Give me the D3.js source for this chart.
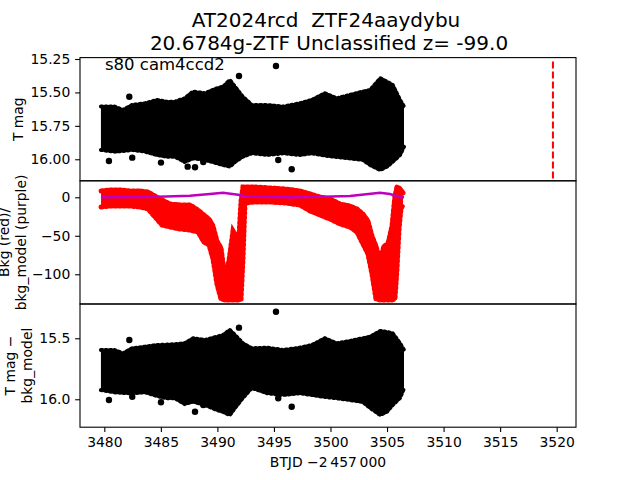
<!DOCTYPE html>
<html><head><meta charset="utf-8">
<script src="https://cdn.jsdelivr.net/npm/d3@7"></script>
<style>body{margin:0;background:#fff} svg{display:block}</style>
</head><body>
<svg id="c" width="640" height="480"></svg>
<script>
// ---------- data ----------
const titleLines = ["AT2024rcd  ZTF24aaydybu", "20.6784g-ZTF Unclassified z= -99.0"];
const sectorLabel = "s80 cam4ccd2";
const xLabel = "BTJD \u22122\u2009457\u2009000";

// light curve envelope (T mag) - upper (bright) and lower (faint) edge of the dense band
const bandTime = [3479.7, 3480.9, 3481.65, 3482.45, 3483.6, 3484.65, 3485.5, 3486.25, 3487.1, 3487.85, 3488.9, 3489.95, 3490.5, 3491.1, 3491.55, 3492.25, 3493.05, 3494.4, 3495.8, 3497.3, 3498.35, 3499.5, 3500.55, 3501.7, 3502.85, 3503.5, 3504.4, 3505.0, 3505.5, 3506.15, 3506.5];
const magBright = [15.606, 15.606, 15.631, 15.594, 15.581, 15.556, 15.570, 15.569, 15.544, 15.494, 15.506, 15.469, 15.457, 15.407, 15.457, 15.532, 15.594, 15.594, 15.606, 15.581, 15.556, 15.506, 15.544, 15.519, 15.494, 15.482, 15.394, 15.420, 15.444, 15.556, 15.606];
const magFaint = [15.930, 15.943, 15.938, 15.930, 15.943, 15.968, 15.981, 15.981, 16.020, 15.993, 16.005, 16.030, 16.043, 16.055, 16.020, 15.981, 15.955, 15.968, 15.955, 15.968, 15.955, 15.972, 15.983, 15.993, 16.005, 16.043, 16.080, 16.055, 16.018, 15.968, 15.906];
const outTime = [3482.21, 3491.91, 3495.18, 3480.41, 3482.47, 3485.01, 3487.37, 3488.02, 3488.75, 3495.38, 3496.57];
const outMag  = [15.532, 15.377, 15.302, 16.013, 15.988, 16.025, 16.055, 16.060, 16.020, 16.005, 16.075];

// background (red) envelope and background model (purple)
const bkgTime = [3479.71, 3480.50, 3481.39, 3482.27, 3483.16, 3483.86, 3484.48, 3485.10, 3485.81, 3486.69, 3487.58, 3488.28, 3488.81, 3489.26, 3489.61, 3489.96, 3490.32, 3490.67, 3491.02, 3491.38, 3491.64, 3491.91, 3492.09, 3492.26, 3492.44, 3493.32, 3494.65, 3495.98, 3497.30, 3498.19, 3499.07, 3499.96, 3500.84, 3501.72, 3502.34, 3502.87, 3503.31, 3503.67, 3504.02, 3504.38, 3504.73, 3505.08, 3505.44, 3505.70, 3505.88, 3506.06, 3506.23, 3506.41];
const bkgHigh = [8.2, 9.5, 9.5, 8.2, 8.2, 6.9, 1.7, -3.5, -8.7, -10.0, -10.0, -16.5, -23.0, -28.2, -37.3, -56.8, -65.9, -105.3, -82.7, -43.8, -50.3, -50.3, -4.8, 13.4, 13.4, 13.4, 12.1, 10.8, 8.2, 4.3, 0.4, -2.2, -8.7, -11.3, -15.2, -21.7, -30.8, -50.3, -63.3, -82.7, -63.3, -60.7, -37.3, 1.7, 13.4, 12.1, 9.5, 5.6];
const bkgLow = [-12.6, -11.3, -11.3, -11.3, -12.6, -15.2, -25.6, -36.0, -38.6, -41.2, -42.5, -45.1, -58.1, -61.9, -80.1, -112.6, -132.1, -133.4, -133.4, -133.4, -133.4, -133.4, -132.1, -80.1, -7.4, -6.1, -6.1, -7.4, -10.0, -17.8, -23.0, -28.2, -34.7, -38.6, -45.1, -60.7, -73.6, -99.6, -132.1, -133.4, -133.4, -133.4, -133.4, -132.1, -93.1, -41.2, -15.2, -10.0];
const modelTime = [3479.7, 3484.04, 3487.58, 3489.34, 3490.49, 3492.0, 3492.62, 3496.42, 3499.33, 3501.72, 3504.38, 3505.26, 3506.14, 3506.5];
const modelVal  = [0, 0.5, 2.1, 4.3, 6.0, 3.0, 0.8, 0, 0.8, 1.7, 6.0, 4.3, 0, 0];

// background-corrected light curve envelope
const corrBright = [15.596, 15.596, 15.623, 15.582, 15.569, 15.555, 15.552, 15.549, 15.541, 15.500, 15.514, 15.487, 15.473, 15.432, 15.473, 15.541, 15.582, 15.577, 15.596, 15.577, 15.555, 15.500, 15.541, 15.522, 15.500, 15.487, 15.440, 15.448, 15.459, 15.541, 15.596];
const corrFaint = [15.924, 15.943, 15.948, 15.951, 15.943, 15.973, 15.992, 15.992, 16.039, 16.020, 16.047, 16.088, 16.104, 16.129, 16.071, 15.989, 15.907, 15.951, 15.965, 15.951, 15.965, 15.981, 15.992, 16.006, 16.022, 16.071, 16.129, 16.102, 16.047, 15.989, 15.910];
const corrOutTime = [3482.21, 3491.91, 3495.18, 3480.41, 3482.47, 3485.01, 3488.02, 3488.75, 3495.38, 3496.57];
const corrOutMag  = [15.514, 15.413, 15.282, 16.006, 15.979, 16.025, 16.102, 16.047, 15.992, 16.061];

const sectorEnd = 3519.67;
const xTicks = [3480, 3485, 3490, 3495, 3500, 3505, 3510, 3515, 3520];
const magTicks = [15.25, 15.50, 15.75, 16.00];
const bkgTicks = [0, -50, -100];
const corrTicks = [15.5, 16.0];

// ---------- drawing ----------
const svg = d3.select("#c");
const FONT = "'DejaVu Sans', sans-serif";
const L = 80, R = 576;
const panels = [[57.6, 180.8], [180.8, 304], [304, 427.2]];
const x = d3.scaleLinear().domain([3477.85, 3521.71]).range([L, R]);
const y1 = d3.scaleLinear().domain([15.2395, 16.161]).range(panels[0]);
const y2 = d3.scaleLinear().domain([21.4, -138.6]).range(panels[1]);
const y3 = d3.scaleLinear().domain([15.219, 16.229]).range(panels[2]);

svg.append("rect").attr("width", 640).attr("height", 480).attr("fill", "#fff");
const defs = svg.append("defs");
panels.forEach((p, i) => {
  defs.append("clipPath").attr("id", "clip" + i).append("rect")
    .attr("x", L).attr("y", p[0]).attr("width", R - L).attr("height", p[1] - p[0]);
});

function styleAxis(g) {
  g.selectAll("text").attr("font-family", FONT).attr("font-size", 13.9).attr("fill", "#000");
  g.selectAll("line").attr("stroke", "#000").attr("stroke-width", 1.1);
  g.select(".domain").remove();
}

// dense band: filled envelope, outlined with a serrated stroke to mimic overlapping markers + error bars
function band(g, rows, y, color, sw, dash) {
  const area = d3.area().x(d => x(d.t)).y0(d => y(d.a)).y1(d => y(d.b));
  g.append("path").datum(rows).attr("d", area).attr("fill", color);
  const top = d3.line().x(d => x(d.t)).y(d => y(d.a));
  const bot = d3.line().x(d => x(d.t)).y(d => y(d.b));
  [top, bot].forEach(fn => {
    g.append("path").datum(rows).attr("d", fn).attr("fill", "none")
      .attr("stroke", color).attr("stroke-width", sw).attr("stroke-dasharray", dash)
      .attr("stroke-linecap", "round");
  });
}

function lightCurve(i, y, bright, faint, oT, oM) {
  const g = svg.append("g").attr("clip-path", `url(#clip${i})`);
  const rows = bandTime.map((t, k) => ({t, a: bright[k], b: faint[k]}));
  band(g, rows, y, "#000", 4, "1.5,3");
  const pts = oT.map((t, k) => ({t, m: oM[k]}));
  g.selectAll("line.eb").data(pts).enter().append("line")
    .attr("x1", d => x(d.t)).attr("x2", d => x(d.t))
    .attr("y1", d => y(d.m - 0.014)).attr("y2", d => y(d.m + 0.014))
    .attr("stroke", "#000").attr("stroke-width", 1.6);
  g.selectAll("circle").data(pts).enter().append("circle")
    .attr("cx", d => x(d.t)).attr("cy", d => y(d.m)).attr("r", 3.2).attr("fill", "#000");
}

// Panel 1
lightCurve(0, y1, magBright, magFaint, outTime, outMag);
svg.append("line").attr("clip-path", "url(#clip0)")
  .attr("x1", x(sectorEnd)).attr("x2", x(sectorEnd))
  .attr("y1", y1(15.2395) + 4).attr("y2", y1(16.161))
  .attr("stroke", "#ff0000").attr("stroke-width", 2).attr("stroke-dasharray", "7,3");
svg.append("text").attr("x", 105).attr("y", 70).text(sectorLabel)
  .attr("font-family", FONT).attr("font-size", 16.5).attr("fill", "#000");

// Panel 2
{
  const g = svg.append("g").attr("clip-path", "url(#clip1)");
  const rows = bkgTime.map((t, k) => ({t, a: bkgHigh[k], b: bkgLow[k]}));
  band(g, rows, y2, "#ff0000", 5, "2,2.5");
  const mrows = modelTime.map((t, k) => ({t, v: modelVal[k]}));
  g.append("path").datum(mrows).attr("d", d3.line().x(d => x(d.t)).y(d => y2(d.v)))
    .attr("fill", "none").attr("stroke", "#bf00bf").attr("stroke-width", 2.5);
}

// Panel 3
lightCurve(2, y3, corrBright, corrFaint, corrOutTime, corrOutMag);

// spines
panels.forEach(p => {
  svg.append("rect").attr("x", L).attr("y", p[0]).attr("width", R - L).attr("height", p[1] - p[0])
    .attr("fill", "none").attr("stroke", "#000").attr("stroke-width", 1.1);
});

// axes
const tk = 4.86;
svg.append("g").attr("transform", `translate(${L},0)`)
  .call(d3.axisLeft(y1).tickValues(magTicks).tickFormat(d3.format(".2f")).tickSize(tk).tickPadding(4.9)).call(styleAxis);
svg.append("g").attr("transform", `translate(${L},0)`)
  .call(d3.axisLeft(y2).tickValues(bkgTicks).tickFormat(d3.format("d")).tickSize(tk).tickPadding(4.9)).call(styleAxis);
svg.append("g").attr("transform", `translate(${L},0)`)
  .call(d3.axisLeft(y3).tickValues(corrTicks).tickFormat(d3.format(".1f")).tickSize(tk).tickPadding(4.9)).call(styleAxis);
svg.append("g").attr("transform", `translate(0,${panels[2][1]})`)
  .call(d3.axisBottom(x).tickValues(xTicks).tickFormat(d3.format("d")).tickSize(tk).tickPadding(4.9)).call(styleAxis);

// labels
function vlabel(cx, cy, txt) {
  svg.append("text").attr("transform", `translate(${cx},${cy}) rotate(-90)`)
    .attr("text-anchor", "middle").attr("dominant-baseline", "central")
    .attr("font-family", FONT).attr("font-size", 13.9).attr("fill", "#000").text(txt);
}
vlabel(18, 119.2, "T mag");
vlabel(4, 242.4, "Bkg (red)/");
vlabel(20.5, 242.4, "bkg_model (purple)");
vlabel(10, 365.6, "T mag \u2212");
vlabel(26.5, 365.6, "bkg_model");

svg.append("text").attr("x", 328).attr("y", 467).attr("text-anchor", "middle")
  .attr("font-family", FONT).attr("font-size", 13.9).attr("fill", "#000").text(xLabel);

svg.append("text").attr("x", 326).attr("y", 27).attr("text-anchor", "middle")
  .attr("font-family", FONT).attr("font-size", 20).attr("fill", "#000")
  .style("white-space", "pre").text(titleLines[0]);
svg.append("text").attr("x", 329).attr("y", 50).attr("text-anchor", "middle")
  .attr("font-family", FONT).attr("font-size", 20).attr("fill", "#000").text(titleLines[1]);
</script>
</body></html>
